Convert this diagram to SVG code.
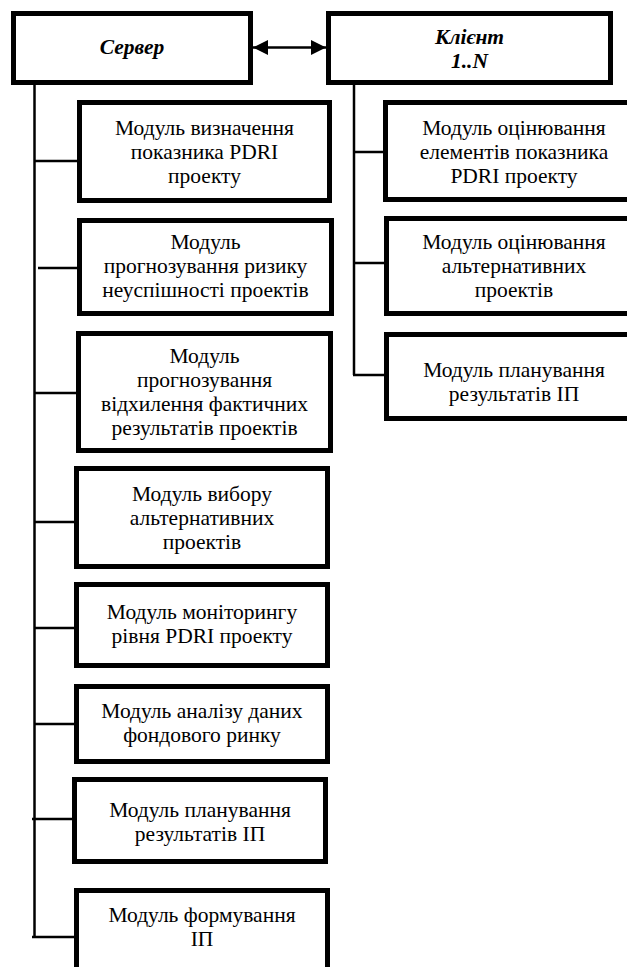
<svg xmlns="http://www.w3.org/2000/svg" width="627" height="967" viewBox="0 0 627 967">
<style>
.box{fill:#fff;stroke:#000;stroke-width:5}
.t{font-family:"Liberation Serif","Times New Roman",serif;font-size:21.5px;text-anchor:middle;fill:#000}
.h{font-weight:bold;font-style:italic}
.c{stroke:#000;stroke-width:2.5;fill:none}
</style>
<defs>
<marker id="ah" viewBox="0 0 15 15" refX="15" refY="7.5" markerWidth="15" markerHeight="15" markerUnits="userSpaceOnUse" orient="auto-start-reverse">
<path d="M0,0 L15,7.5 L0,15 Z" fill="#000"/>
</marker>
</defs>
<rect width="627" height="967" fill="#fff"/>
<g id="connectors">
<line class="c" x1="253" y1="47.5" x2="326" y2="47.5" stroke-width="3" marker-start="url(#ah)" marker-end="url(#ah)"/>
<path class="c" stroke-width="2" d="M34.5,85 V937"/>
<path class="c" d="M34,161 H77 M38,268 H77 M34,393 H76 M34,522 H74 M34,628 H80 M34,724 H74 M32,819 H72 M32,937 H74"/>
<path class="c" stroke-width="2" d="M354,85 V375"/>
<path class="c" d="M354,152 H383 M354,263 H384 M353,375 H384"/>
</g>
<g id="server">
<rect class="box" x="13.5" y="13.5" width="237" height="69"/>
<text class="t h" x="132" y="54">Сервер</text>
</g>
<g id="client">
<rect class="box" x="328.5" y="13.5" width="282" height="69"/>
<text class="t h" x="469.5" y="44">Клієнт</text>
<text class="t h" x="469.5" y="68">1..N</text>
</g>
<g id="m1">
<rect class="box" x="79.5" y="102.5" width="250" height="98"/>
<text class="t" x="204.5" y="135">Модуль визначення</text>
<text class="t" x="204.5" y="159">показника PDRI</text>
<text class="t" x="204.5" y="183">проекту</text>
</g>
<g id="m2">
<rect class="box" x="79.5" y="220.5" width="252" height="93"/>
<text class="t" x="205.5" y="249">Модуль</text>
<text class="t" x="205.5" y="273">прогнозування ризику</text>
<text class="t" x="205.5" y="297">неуспішності проектів</text>
</g>
<g id="m3">
<rect class="box" x="78.5" y="333.5" width="252" height="117"/>
<text class="t" x="204.5" y="363">Модуль</text>
<text class="t" x="204.5" y="387">прогнозування</text>
<text class="t" x="204.5" y="411">відхилення фактичних</text>
<text class="t" x="204.5" y="435">результатів проектів</text>
</g>
<g id="m4">
<rect class="box" x="76.5" y="468.5" width="251" height="98"/>
<text class="t" x="202" y="501">Модуль вибору</text>
<text class="t" x="202" y="525">альтернативних</text>
<text class="t" x="202" y="549">проектів</text>
</g>
<g id="m5">
<rect class="box" x="76.5" y="584.5" width="251" height="81"/>
<text class="t" x="202" y="619">Модуль моніторингу</text>
<text class="t" x="202" y="643">рівня PDRI проекту</text>
</g>
<g id="m6">
<rect class="box" x="76.5" y="686.5" width="251" height="75"/>
<text class="t" x="202" y="718">Модуль аналізу даних</text>
<text class="t" x="202" y="742">фондового ринку</text>
</g>
<g id="m7">
<rect class="box" x="74.5" y="779.5" width="251" height="82"/>
<text class="t" x="200" y="817">Модуль планування</text>
<text class="t" x="200" y="841">результатів ІП</text>
</g>
<g id="m8">
<rect class="box" x="76.5" y="890.5" width="251" height="82"/>
<text class="t" x="202" y="922">Модуль формування</text>
<text class="t" x="202" y="946">ІП</text>
</g>
<g id="c1">
<rect class="box" x="385.5" y="102.5" width="257" height="97"/>
<text class="t" x="514" y="135">Модуль оцінювання</text>
<text class="t" x="514" y="159">елементів показника</text>
<text class="t" x="514" y="183">PDRI проекту</text>
</g>
<g id="c2">
<rect class="box" x="386.5" y="218.5" width="256" height="95"/>
<text class="t" x="514" y="249">Модуль оцінювання</text>
<text class="t" x="514" y="273">альтернативних</text>
<text class="t" x="514" y="297">проектів</text>
</g>
<g id="c3">
<rect class="box" x="386.5" y="334.5" width="256" height="84"/>
<text class="t" x="514" y="377">Модуль планування</text>
<text class="t" x="514" y="401">результатів ІП</text>
</g>
</svg>
